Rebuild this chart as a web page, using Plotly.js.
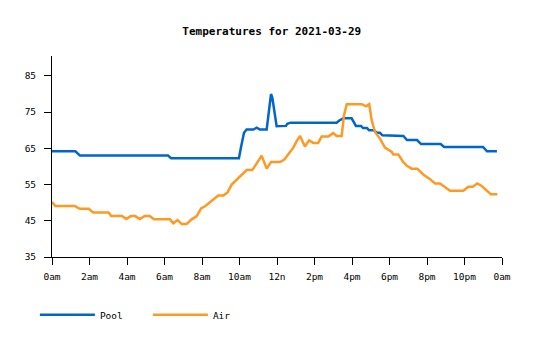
<!DOCTYPE html>
<html>
<head>
<meta charset="utf-8">
<script src="https://cdn.plot.ly/plotly-3.0.1.min.js"></script>
<style>html,body{margin:0;padding:0;background:#fff;}#chart{width:535px;height:340px;}</style>
</head>
<body>
<div id="chart"></div>
<script>
// Hours since midnight
var poolHours = [0,1.25,1.49,6.19,6.35,9.97,10.08,10.17,10.24,10.38,10.74,10.92,11.09,11.45,11.54,11.68,11.75,11.86,11.98,12.48,12.55,12.73,15.18,15.32,15.54,15.98,16.11,16.21,16.48,16.59,16.8,16.91,17.17,17.32,17.49,17.62,18.74,18.93,19.47,19.68,20.73,20.91,22.99,23.2,23.73];
var poolTemps = [64.2,64.2,63.0,63.0,62.3,62.3,65.3,68,69.3,70.2,70.2,70.7,70.2,70.2,74.6,80,79,75,71.1,71.2,71.8,72.1,72.1,72.7,73.3,73.3,72.2,71.2,71.2,70.6,70.6,70.0,70.0,69.3,69.3,68.6,68.4,67.3,67.3,66.2,66.2,65.4,65.4,64.2,64.2];

var airHours = [0,0.18,1.21,1.48,1.96,2.19,3.02,3.16,3.73,3.96,4.2,4.44,4.68,4.94,5.21,5.44,6.29,6.47,6.7,6.92,7.18,7.45,7.72,7.95,8.16,8.43,8.69,8.87,9.14,9.37,9.58,9.8,9.97,10.15,10.38,10.68,10.86,11.04,11.18,11.45,11.68,12.16,12.39,12.6,12.87,13.05,13.23,13.49,13.71,13.94,14.2,14.38,14.74,15.0,15.18,15.45,15.57,15.72,16.52,16.75,16.92,17.05,17.23,17.49,17.76,18.12,18.2,18.47,18.74,18.95,19.18,19.48,19.8,20.16,20.43,20.69,20.96,21.23,21.94,22.2,22.44,22.68,22.92,23.18,23.41,23.75];
var airTemps = [50.2,49.1,49.1,48.3,48.3,47.3,47.3,46.3,46.3,45.5,46.3,46.3,45.5,46.3,46.3,45.4,45.4,44.3,45.2,44.1,44.1,45.4,46.3,48.4,49,50.2,51.4,52,52,52.9,55,56.1,57,57.9,59,59,60.3,61.8,63,59.4,61.2,61.2,61.9,63.5,65.2,67,68.4,65.5,67.2,66.5,66.5,68.3,68.3,69.2,68.4,68.4,74.1,77.2,77.2,76.6,77.2,72.7,69.5,67.7,65.2,64,63.3,63.3,61.2,60.1,59.4,59.4,57.8,56.5,55.3,55.3,54.2,53.3,53.3,54.4,54.4,55.3,54.6,53.3,52.3,52.3];

var xTickVals = [0,2,4,6,8,10,12,14,16,18,20,22,24];
var xTickText = ['0am','2am','4am','6am','8am','10am','12n','2pm','4pm','6pm','8pm','10pm','0am'];
var yTickVals = [35,45,55,65,75,85];

var mono = 'DejaVu Sans Mono, Liberation Mono, monospace';

var traces = [
  {x: poolHours, y: poolTemps, name: 'Pool', type: 'scatter', mode: 'lines',
   line: {color: '#0066cc', width: 2.5, shape: 'linear'}},
  {x: airHours, y: airTemps, name: 'Air', type: 'scatter', mode: 'lines',
   line: {color: '#ff9922', width: 2.5, shape: 'linear'}}
];

var layout = {
  width: 535, height: 340,
  margin: {l: 52, r: 33, t: 56, b: 83, pad: 0},
  paper_bgcolor: '#fff', plot_bgcolor: '#fff',
  font: {family: mono, size: 9, color: '#000'},
  title: {text: '<b>Temperatures for 2021-03-29</b>', font: {family: mono, size: 11, color: '#000'},
          xref: 'container', x: 0.508, xanchor: 'center', yref: 'container', y: 0.909, yanchor: 'middle'},
  xaxis: {range: [0, 24], tickmode: 'array', tickvals: xTickVals, ticktext: xTickText,
          showgrid: false, zeroline: false, showline: true, linecolor: '#000', linewidth: 1,
          ticks: 'outside', ticklen: 7, tickcolor: '#000', tickwidth: 1, ticklabelstandoff: 4,
          tickfont: {family: mono, size: 9.5, color: '#000'}, fixedrange: true},
  yaxis: {range: [35, 90.5], tickmode: 'array', tickvals: yTickVals,
          showgrid: false, zeroline: false, showline: true, linecolor: '#000', linewidth: 1,
          ticks: 'outside', ticklen: 7, tickcolor: '#000', tickwidth: 1, ticklabelstandoff: 6,
          tickfont: {family: mono, size: 9.5, color: '#000'}, fixedrange: true},
  showlegend: true,
  legend: {orientation: 'h', x: -0.038, xanchor: 'left', yref: 'container', y: 0.074, yanchor: 'middle',
           itemwidth: 55, entrywidth: 43, entrywidthmode: 'pixels', font: {family: mono, size: 9.5, color: '#000'},
           bgcolor: 'rgba(0,0,0,0)'}
};

Plotly.newPlot('chart', traces, layout, {displayModeBar: false, staticPlot: true});
</script>
</body>
</html>
